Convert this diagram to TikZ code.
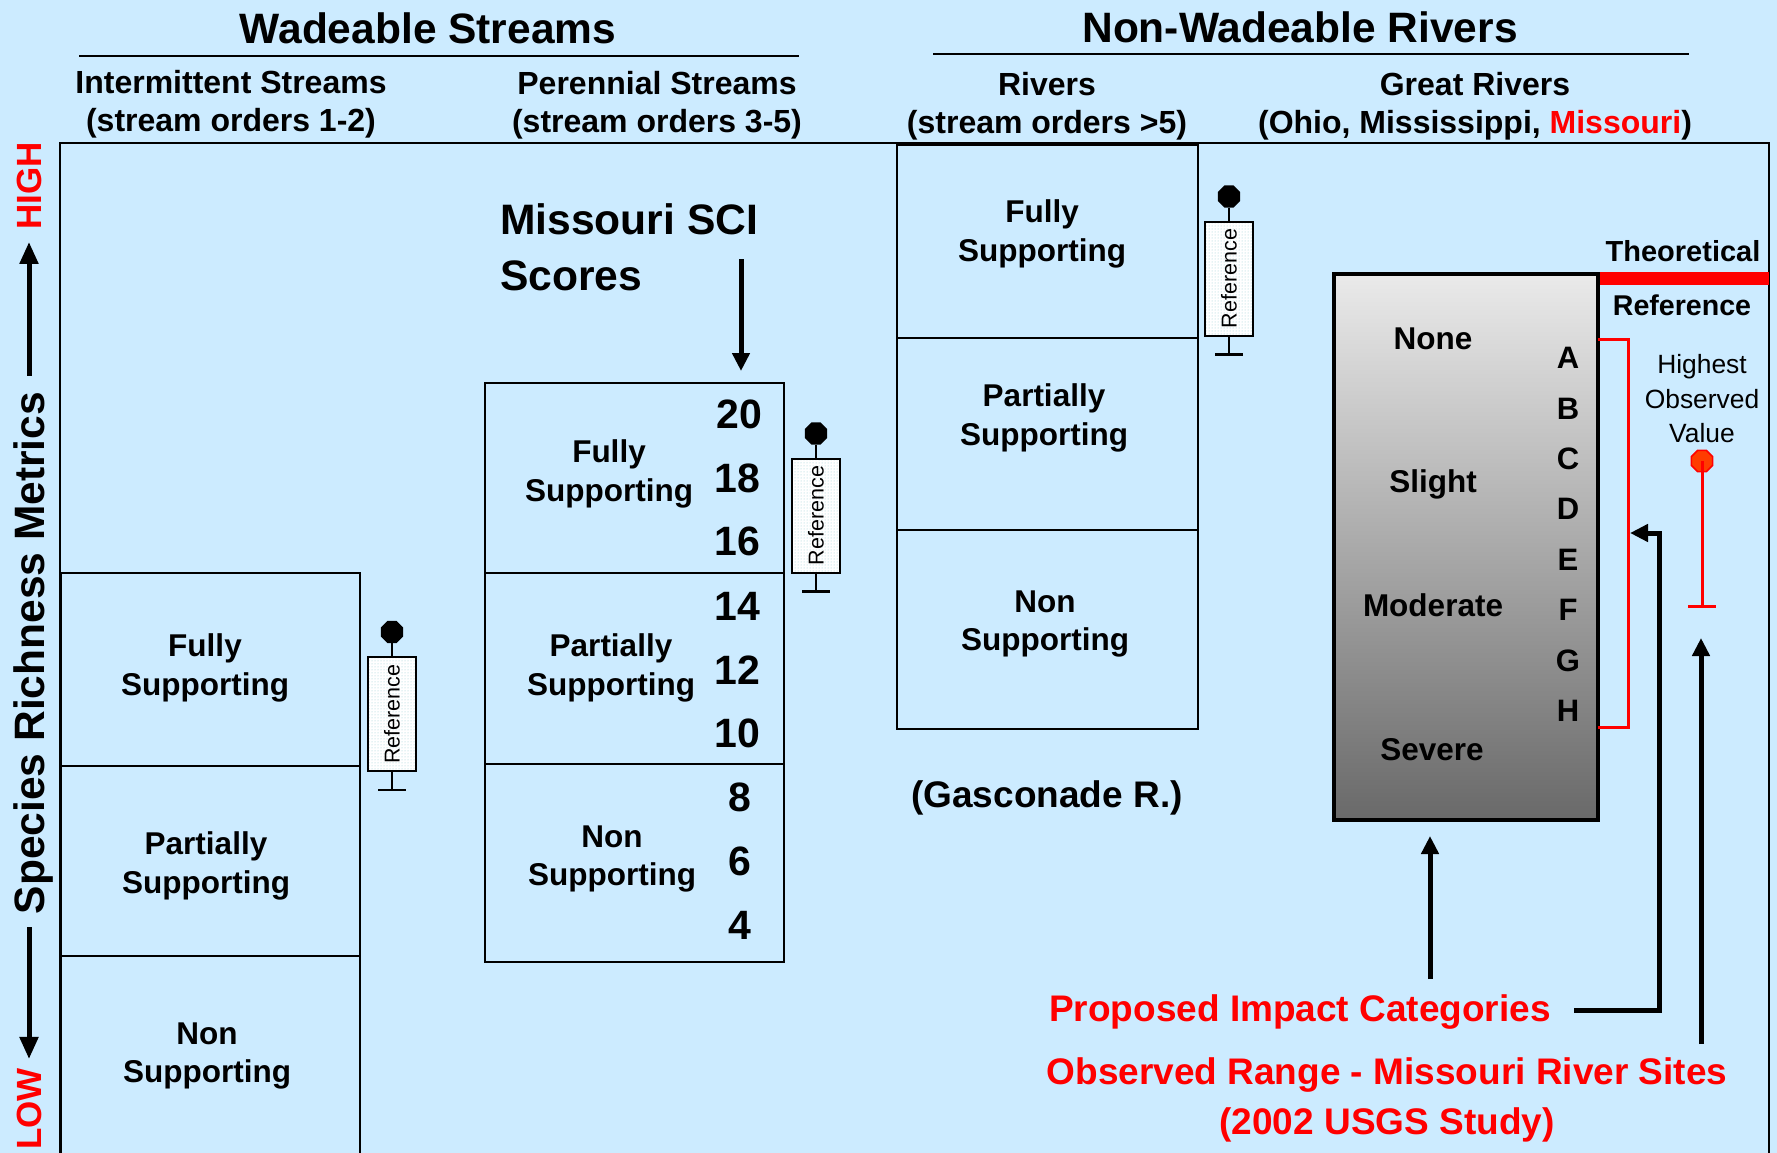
\documentclass[tikz,border=0pt]{standalone}
\usepackage{fontspec}
\setmainfont{Liberation Sans}
\usetikzlibrary{arrows.meta,shapes.geometric,patterns}
\definecolor{sky}{RGB}{204,235,255}
\definecolor{hot}{RGB}{255,0,0}
\definecolor{ember}{RGB}{255,60,0}
\definecolor{speck}{RGB}{150,205,210}
\definecolor{palegray}{RGB}{234,234,234}
\definecolor{darkgray}{RGB}{105,105,105}
\newcommand\fsz[2]{\fontsize{#1}{#2}\selectfont}

\tikzset{
  zone/.style={draw, line width=2pt, inner sep=0pt, anchor=north west},
  lbl/.style={inner sep=0pt, align=center, font=\bfseries\fsz{31.5}{38.5}},
  head/.style={inner sep=0pt, align=center, font=\bfseries\fsz{42.5}{50}},
  subhead/.style={inner sep=0pt, align=center, font=\bfseries\fsz{32}{38}},
  score/.style={inner sep=0pt, font=\bfseries\fsz{41}{48}},
  grade/.style={inner sep=0pt, font=\bfseries\fsz{31}{36}},
  note/.style={inner sep=0pt, align=center, font=\bfseries\fsz{37}{50}, text=hot},
  bigarrow/.style={line width=5pt, -{Triangle[length=18pt,width=17pt]}},
  axarrow/.style={line width=5pt, -{Triangle[length=22pt,width=18pt]}},
  stalk/.style={line width=2.5pt},
  refbox/.style={draw, line width=2pt, rotate=90, minimum width=114pt,
    minimum height=48pt, inner sep=0pt, font=\fsz{21.5}{24},
    preaction={fill=white}, pattern=dots, pattern color=speck},
  refdot/.style={regular polygon, regular polygon sides=8, fill=black,
    minimum size=24pt, inner sep=0pt},
  refmark/.pic={
    \node[refbox] (-box) at (0,0) {Reference};
    \node[refdot] (-dot) at (0,-82) {};
    \coordinate (-foot) at (0,76);
    \draw[stalk] (-dot) -- (-box) -- (-foot);
    \draw[stalk] (-foot) ++(-14,0) -- ++(28,0);
  }
}

\begin{document}
\begin{tikzpicture}[x=1pt,y=-1pt]
\path[use as bounding box, fill=sky] (0,0) rectangle (1777,1153);
\clip (0,0) rectangle (1777,1153);

% column headers
\node[head] (wade) at (428,28) {Wadeable Streams};
\node[head] (nonwade) at (1300,27) {Non-Wadeable Rivers};
\draw[line width=2.5pt] (79,56) -- (799,56);
\draw[line width=2.5pt] (933,54) -- (1689,54);
\node[subhead] (inter) at (231,104) {Intermittent Streams\\(stream orders 1-2)};
\node[subhead] (peren) at (657,105) {Perennial Streams\\(stream orders 3-5)};
\node[subhead] (rivers) at (1047,106) {Rivers\\(stream orders >5)};
\node[subhead] (great) at (1475,106) {Great Rivers\\(Ohio, Mississippi, \textcolor{hot}{Missouri})};

% outer frame
\draw[line width=2pt] (60,1170) |- (1769,143) -- (1769,1170);

% vertical axis
\node[inner sep=0pt, rotate=90, text height=30.6pt, text depth=0pt,
  font=\bfseries\fsz{42.5}{50}] (spec) at (29,653) {Species Richness Metrics};
\node[inner sep=0pt, rotate=90, text height=25pt, text depth=0pt,
  font=\bfseries\fsz{35}{40}, text=hot] (high) at (29,186) {HIGH};
\node[inner sep=0pt, rotate=90, text height=25pt, text depth=0pt,
  font=\bfseries\fsz{35}{40}, text=hot] (low) at (29,1109) {LOW};
\draw[axarrow, shorten <=16pt, shorten >=12pt] (spec.east) -- (high.west);
\draw[axarrow, shorten <=13pt, shorten >=9pt] (spec.west) -- (low.east);

% intermittent streams
\node[zone, minimum width=299pt, minimum height=193pt] (lf) at (60,572) {};
\node[zone, minimum width=299pt, minimum height=190pt] (lp) at (60,765) {};
\node[zone, minimum width=299pt, minimum height=230pt] (ln) at (60,955) {};
\node[lbl] (lft) at (205,668) {Fully\\Supporting};
\node[lbl] (lpt) at (206,866) {Partially\\Supporting};
\node[lbl] (lnt) at (207,1056) {Non\\Supporting};
\pic (m1) at (392,714) {refmark};

% perennial streams
\node[zone, minimum width=299pt, minimum height=190pt] (pf) at (484,382) {};
\node[zone, minimum width=299pt, minimum height=191pt] (pp) at (484,572) {};
\node[zone, minimum width=299pt, minimum height=198pt] (pn) at (484,763) {};
\node[lbl] (pft) at (609,474) {Fully\\Supporting};
\node[lbl] (ppt) at (611,668) {Partially\\Supporting};
\node[lbl] (pnt) at (612,859) {Non\\Supporting};
\node[score] (s20) at (739,414) {20};
\node[score] (s18) at (737,478) {18};
\node[score] (s16) at (737,541) {16};
\node[score] (s14) at (737,606) {14};
\node[score] (s12) at (737,670) {12};
\node[score] (s10) at (737,733) {10};
\node[score] (s8) at (740,797) {8};
\node[score] (s6) at (740,861) {6};
\node[score] (s4) at (740,925) {4};
\pic (m2) at (816,515.5) {refmark};

\node[inner sep=0pt, align=left, anchor=west, font=\bfseries\fsz{42.6}{56}]
  (sci) at (500,247) {Missouri SCI\\Scores};
\coordinate (sciTail) at (741,259);
\draw[bigarrow, shorten >=11pt] (sciTail) -- (sciTail |- pf.north);

% rivers
\node[zone, minimum width=301pt, minimum height=193pt] (rf) at (896,144) {};
\node[zone, minimum width=301pt, minimum height=192pt] (rp) at (896,337) {};
\node[zone, minimum width=301pt, minimum height=199pt] (rn) at (896,529) {};
\node[lbl] (rft) at (1042,234) {Fully\\Supporting};
\node[lbl] (rpt) at (1044,418) {Partially\\Supporting};
\node[lbl] (rnt) at (1045,624) {Non\\Supporting};
\pic (m3) at (1229,278.5) {refmark};
\node[inner sep=0pt, font=\bfseries\fsz{37}{44}] (gasc) at (1047,798) {(Gasconade R.)};

% great rivers impact scale
\node[draw, line width=4pt, top color=palegray, bottom color=darkgray,
  minimum width=264pt, minimum height=546pt, inner sep=0pt, anchor=north west]
  (gr) at (1332,272) {};
\node[lbl] (none) at (1433,339) {None};
\node[lbl] (slight) at (1433,484) {Slight};
\node[lbl] (moder) at (1433,605) {Moderate};
\node[lbl] (severe) at (1432,750) {Severe};
\foreach \g [count=\i from 0] in {A,B,C,D,E,F,G,H}
  \node[grade] (g\g) at (1568,358+50.4*\i) {\g};

\fill[hot] (gr.north east) rectangle (1769,285);
\node[inner sep=0pt, font=\bfseries\fsz{29}{34}] (theo) at (1683,251) {Theoretical};
\node[inner sep=0pt, font=\bfseries\fsz{28.6}{34}] (refl) at (1682,305) {Reference};

\draw[hot, line width=3pt] (1598,339) -| (1628,727) -- (1598,727);
\coordinate (brkPt) at (1630,533);

\node[inner sep=0pt, align=center, font=\fsz{26.4}{34.5}] (hov) at (1702,399)
  {Highest\\Observed\\Value};
\node[refdot, fill=ember, draw=hot, line width=1.5pt, minimum size=23pt] (hdot) at (1702,461) {};
\coordinate (hfoot) at (1702,606);
\draw[hot, line width=3pt] (hdot.center) -- (hfoot);
\draw[hot, line width=3pt] (hfoot) ++(-14,0) -- ++(28,0);

% notes and pointers
\node[note] (impact) at (1300,1012) {Proposed Impact Categories};
\node[note] (range) at (1387,1100) {Observed Range - Missouri River Sites\\(2002 USGS Study)};

\coordinate (impUp) at (1430,979);
\draw[bigarrow, shorten >=14pt] (impUp) -- (impUp |- gr.south);
\coordinate (impHook) at (1574,1010);
\coordinate (hookBend) at (1659,1010);
\draw[bigarrow] (impHook) -- (hookBend) |- (brkPt);
\coordinate (obsTail) at (1701,1044);
\draw[bigarrow, shorten >=32pt] (obsTail) -- (obsTail |- hfoot);
\end{tikzpicture}
\end{document}
